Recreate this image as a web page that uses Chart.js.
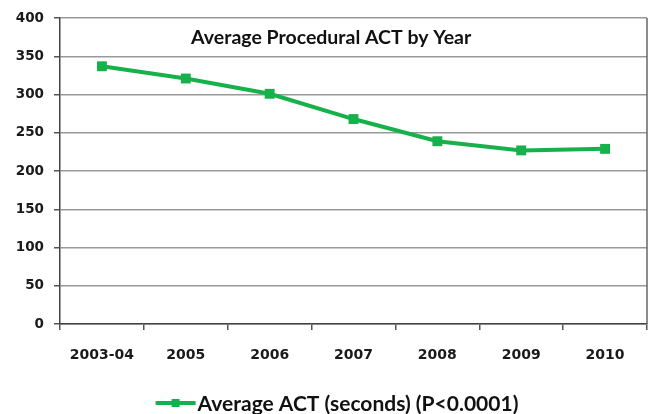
<!DOCTYPE html>
<html><head><meta charset="utf-8">
<script src="https://cdn.jsdelivr.net/npm/chart.js@4/dist/chart.umd.min.js"></script>
<style>html,body{margin:0;padding:0;background:#fff}#wrap{width:654px;height:414px}</style>
</head><body><div id="wrap"><canvas id="c" width="654" height="414"></canvas></div>
<script>
const categories = ['2003-04','2005','2006','2007','2008','2009','2010'];
const actValues = [337, 321, 301, 268, 239, 227, 229];
const yTicks = [0,50,100,150,200,250,300,350,400];
const seriesName = 'Average ACT (seconds) (P<0.0001)';
const chartTitle = 'Average Procedural ACT by Year';

const FONT = 'Lato, "Open Sans", sans-serif';
const TICKFONT = '"DejaVu Sans", sans-serif';
const GREEN = '#17b14b';

const extras = {
  id: 'extras',
  afterDraw(chart) {
    const ctx = chart.ctx, a = chart.chartArea;
    ctx.save();
    // right border
    ctx.strokeStyle = '#666'; ctx.lineWidth = 1.5;
    ctx.beginPath(); ctx.moveTo(a.right, a.top); ctx.lineTo(a.right, a.bottom); ctx.stroke();
    // title
    ctx.fillStyle = '#111';
    ctx.font = 'bold 19.5px ' + FONT;
    ctx.textAlign = 'center'; ctx.textBaseline = 'middle';
    ctx.fillText(chartTitle, a.left + (a.right - a.left) * 0.462, a.top + 20);
    // legend
    ctx.font = 'bold 21px ' + FONT;
    const tw = ctx.measureText(seriesName).width;
    const lw = 40, gap = 2;
    const total = lw + gap + tw;
    const x0 = 337 - total / 2, y = 403;
    ctx.strokeStyle = GREEN; ctx.lineWidth = 4;
    ctx.beginPath(); ctx.moveTo(x0, y); ctx.lineTo(x0 + lw, y); ctx.stroke();
    ctx.fillStyle = GREEN;
    ctx.fillRect(x0 + lw / 2 - 4, y - 4, 8, 8);
    ctx.fillStyle = '#111'; ctx.textAlign = 'left';
    ctx.fillText(seriesName, x0 + lw + gap, y + 1);
    ctx.restore();
  }
};

new Chart(document.getElementById('c'), {
  type: 'line',
  data: {
    labels: categories,
    datasets: [{
      label: seriesName,
      data: actValues,
      borderColor: GREEN,
      backgroundColor: GREEN,
      borderWidth: 4,
      pointStyle: 'rect',
      pointRadius: 7,
      pointBorderWidth: 0,
      tension: 0
    }]
  },
  options: {
    responsive: false,
    animation: false,
    layout: { padding: { top: 13, right: 3, bottom: 40, left: 0 } },
    plugins: { legend: { display: false }, title: { display: false }, tooltip: { enabled: false } },
    scales: {
      x: {
        type: 'category',
        offset: true,
        grid: { offset: true, drawOnChartArea: false, tickLength: 6, tickColor: '#555', lineWidth: 1.5 },
        border: { color: '#444', width: 1.5 },
        ticks: { color: '#1a1a1a', font: { family: TICKFONT, size: 14, weight: 'bold' }, padding: 17, maxRotation: 0 },
        afterFit(s) { s.height = 50; }
      },
      y: {
        min: 0, max: 400,
        afterBuildTicks(s) { s.ticks = yTicks.map(v => ({ value: v })); },
        grid: { color: '#999', lineWidth: 1.5, tickLength: 6, tickColor: '#555' },
        border: { color: '#444', width: 1.5 },
        ticks: { color: '#1a1a1a', font: { family: TICKFONT, size: 13.5, weight: 'bold' }, padding: 10 },
        afterFit(s) { s.width = 60; }
      }
    }
  },
  plugins: [extras]
});
</script>
</body></html>
